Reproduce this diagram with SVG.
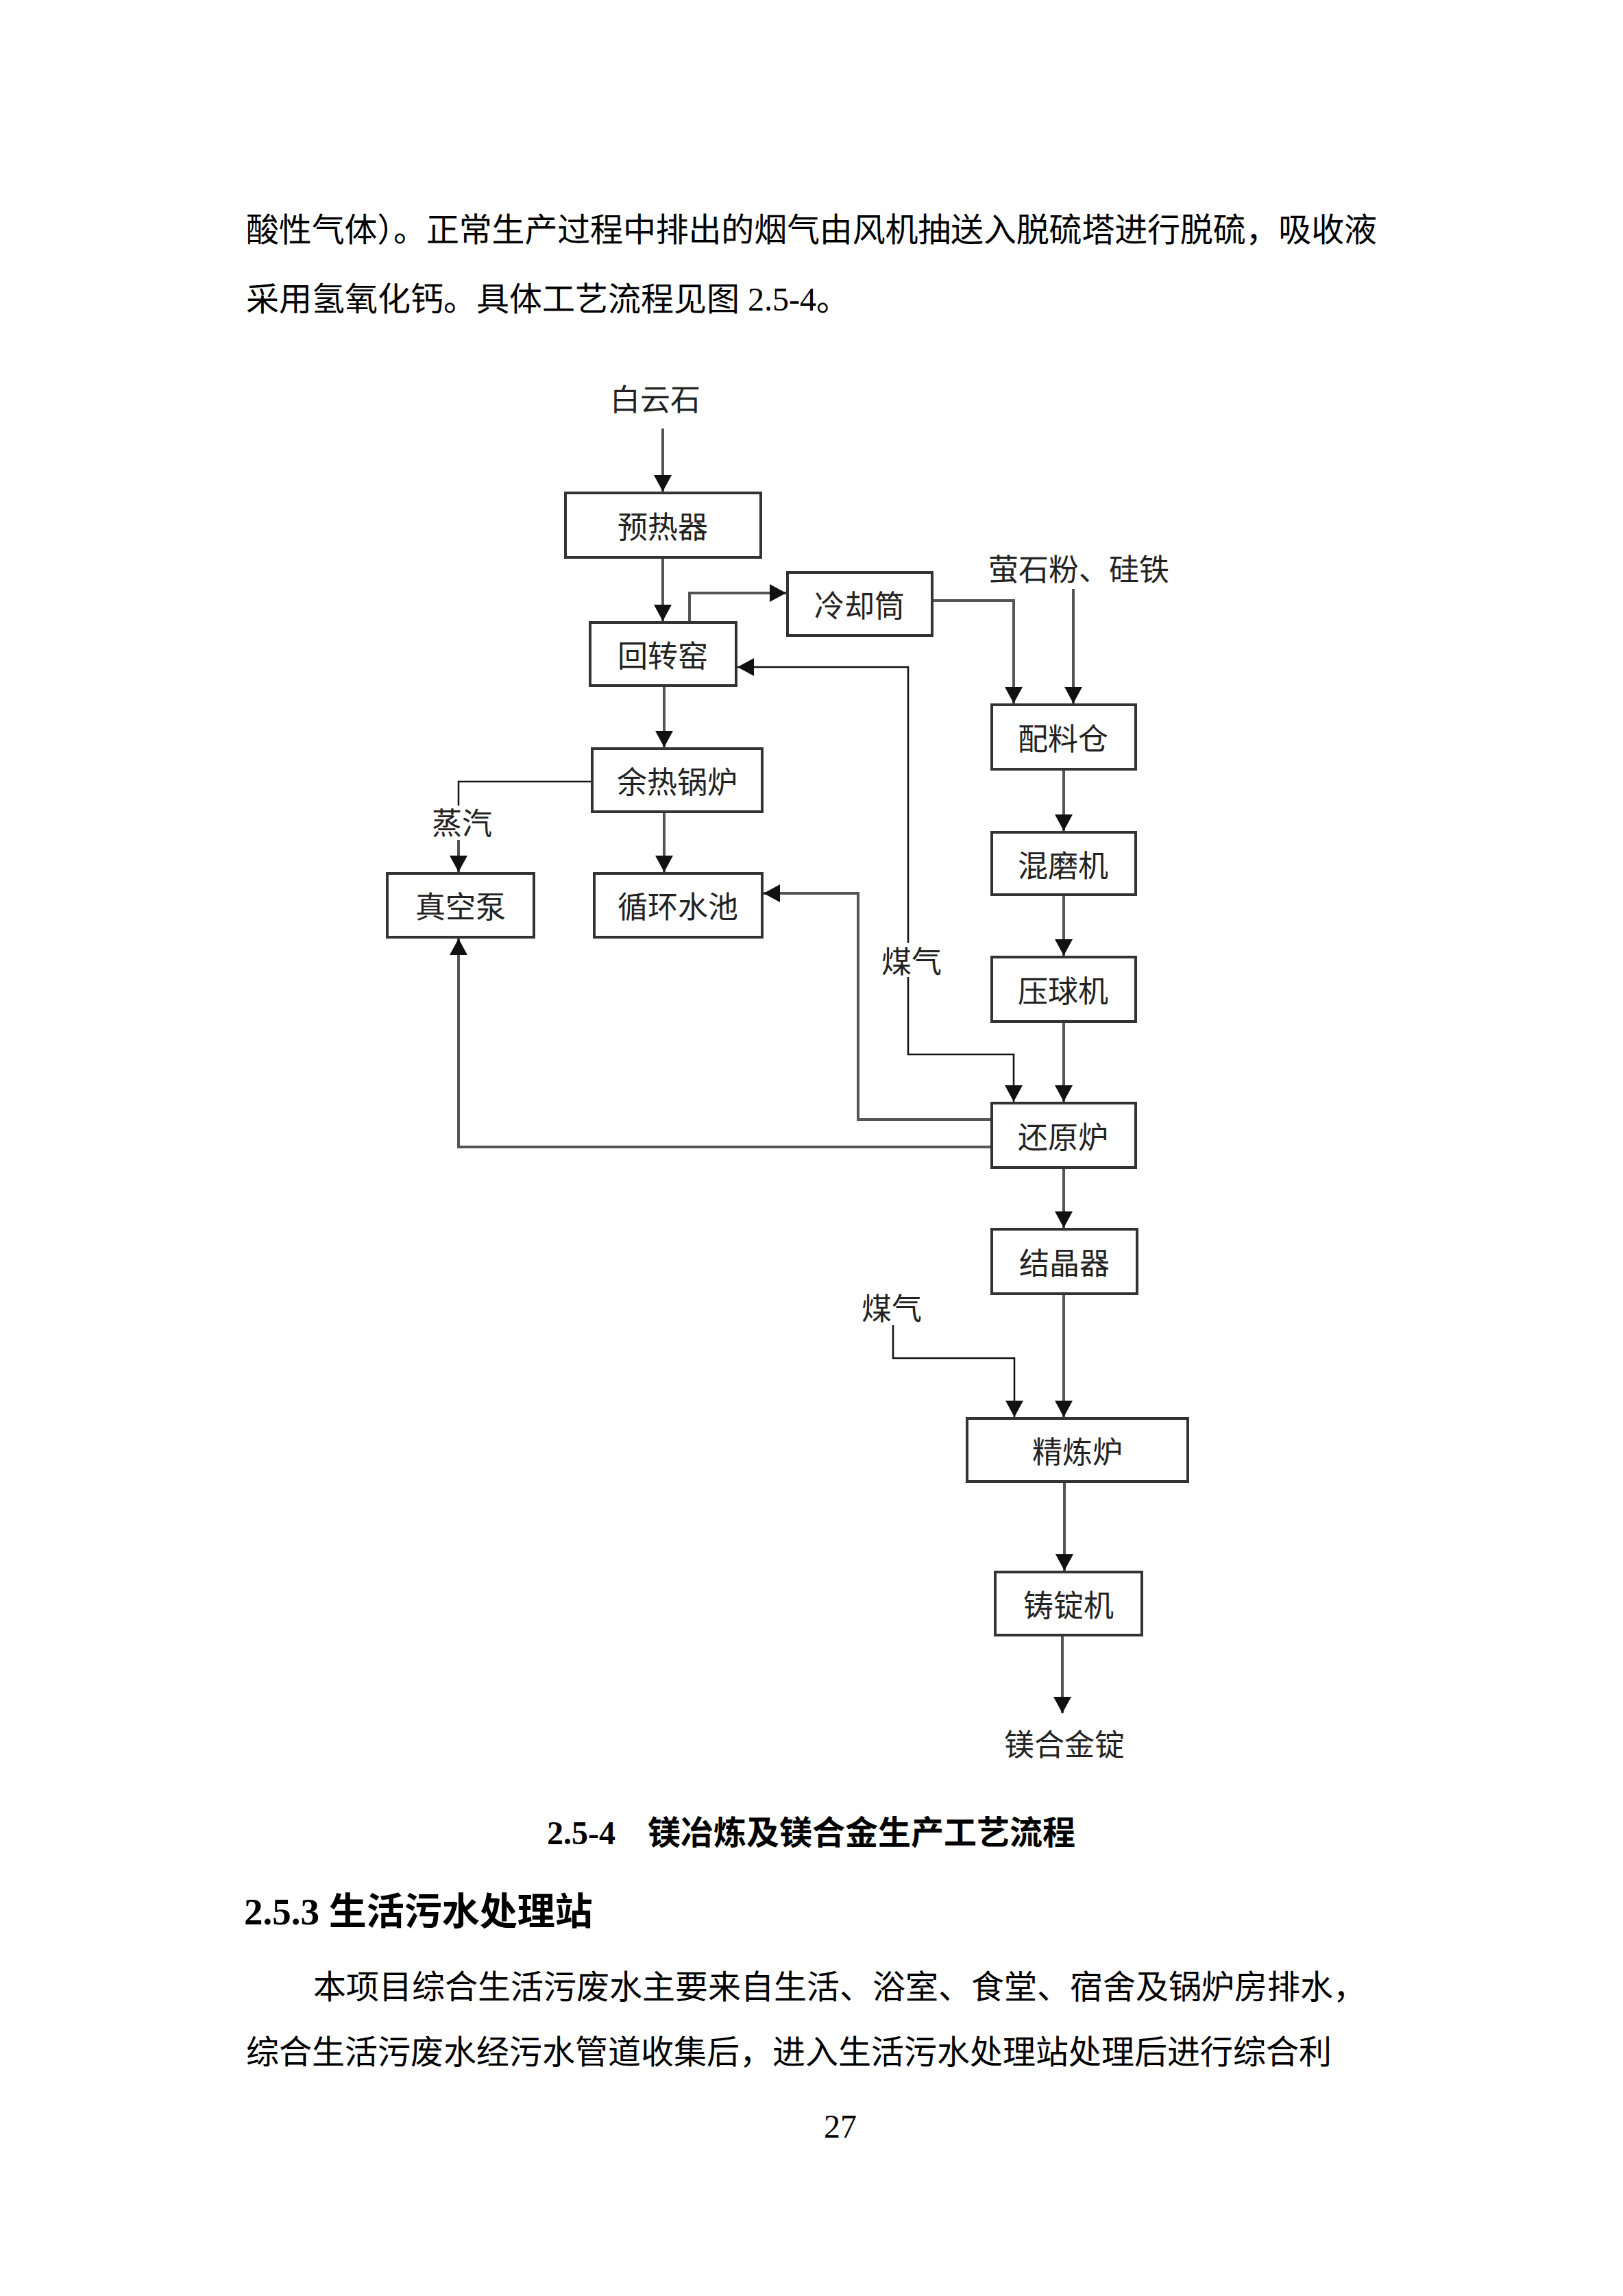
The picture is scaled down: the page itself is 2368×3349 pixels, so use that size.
<svg xmlns="http://www.w3.org/2000/svg" width="2368" height="3349" viewBox="0 0 2368 3349">
<style>
.body{font-family:"Liberation Serif","Noto Sans CJK SC",serif;font-size:48px;fill:#000}
.cap{font-family:"Liberation Serif","Noto Sans CJK SC",serif;font-weight:bold;fill:#000}
.box{fill:#fff;stroke:#333;stroke-width:4}
.lbl{font-family:"Noto Sans CJK SC",sans-serif;font-size:44px;fill:#222;text-anchor:middle;dominant-baseline:central}
.c{fill:none;stroke:#555;stroke-width:4}
.g{fill:none;stroke:#111;stroke-width:2.5}
</style>
<defs>
<marker id="ah" markerUnits="userSpaceOnUse" markerWidth="24" markerHeight="26" viewBox="0 0 24 26" refX="24" refY="13" orient="auto">
<path d="M0,0 L24,13 L0,26 Z" fill="#111"/>
</marker>
</defs>
<rect width="2368" height="3349" fill="#fff"/>
<text class="body" x="359" y="352" textLength="1650" lengthAdjust="spacing">酸性气体）。正常生产过程中排出的烟气由风机抽送入脱硫塔进行脱硫，吸收液</text>
<text class="body" x="359" y="453">采用氢氧化钙。具体工艺流程见图 2.5-4。</text>

<g id="connectors">
<path class="c" d="M967,625 V717" marker-end="url(#ah)"/>
<path class="c" d="M967,813 V906" marker-end="url(#ah)"/>
<path class="c" d="M1006,908 V865 H1147" marker-end="url(#ah)"/>
<path class="c" d="M1360,876 H1479 V1026" marker-end="url(#ah)"/>
<path class="c" d="M1566,859 V1026" marker-end="url(#ah)"/>
<path class="g" d="M1325,1375 V973 H1076" marker-end="url(#ah)"/>
<path class="c" d="M969,1000 V1090" marker-end="url(#ah)"/>
<path class="g" d="M864,1140 H669 V1175"/>
<path class="c" d="M669,1225 V1272" marker-end="url(#ah)"/>
<path class="c" d="M969,1184 V1272" marker-end="url(#ah)"/>
<path class="c" d="M1447,1633 H1252 V1303 H1114" marker-end="url(#ah)"/>
<path class="c" d="M1447,1673 H669 V1369" marker-end="url(#ah)"/>
<path class="g" d="M1325,1425 V1538 H1479 V1607" marker-end="url(#ah)"/>
<path class="c" d="M1552,1122 V1212" marker-end="url(#ah)"/>
<path class="c" d="M1552,1305 V1394" marker-end="url(#ah)"/>
<path class="c" d="M1552,1490 V1607" marker-end="url(#ah)"/>
<path class="c" d="M1552,1703 V1791" marker-end="url(#ah)"/>
<path class="c" d="M1552,1887 V2067" marker-end="url(#ah)"/>
<path class="g" d="M1303,1933 V1981 H1480 V2067" marker-end="url(#ah)"/>
<path class="c" d="M1553,2161 V2291" marker-end="url(#ah)"/>
<path class="c" d="M1550,2385 V2499" marker-end="url(#ah)"/>
</g>

<g id="n-baiyunshi"><text class="lbl" x="956" y="580">白云石</text></g>
<g id="n-yureqi"><rect class="box" x="825" y="719" width="285" height="94"/><text class="lbl" x="967" y="766">预热器</text></g>
<g id="n-huizhuanyao"><rect class="box" x="861" y="908" width="213" height="92"/><text class="lbl" x="967" y="954">回转窑</text></g>
<g id="n-lengquetong"><rect class="box" x="1149" y="835" width="211" height="92"/><text class="lbl" x="1254" y="881">冷却筒</text></g>
<g id="n-yingshifen"><text class="lbl" x="1574" y="828">萤石粉、硅铁</text></g>
<g id="n-peiliaocang"><rect class="box" x="1447" y="1028" width="210" height="94"/><text class="lbl" x="1551" y="1075">配料仓</text></g>
<g id="n-yureguolu"><rect class="box" x="864" y="1092" width="248" height="92"/><text class="lbl" x="988" y="1138">余热锅炉</text></g>
<g id="n-zhengqi"><text class="lbl" x="674" y="1198">蒸汽</text></g>
<g id="n-zhenkongbeng"><rect class="box" x="565" y="1274" width="214" height="93"/><text class="lbl" x="672" y="1320">真空泵</text></g>
<g id="n-xunhuanshuichi"><rect class="box" x="867" y="1274" width="245" height="93"/><text class="lbl" x="989" y="1320">循环水池</text></g>
<g id="n-humoji"><rect class="box" x="1447" y="1214" width="210" height="91"/><text class="lbl" x="1551" y="1260">混磨机</text></g>
<g id="n-meiqi1"><text class="lbl" x="1330" y="1400">煤气</text></g>
<g id="n-yaqiuji"><rect class="box" x="1447" y="1396" width="210" height="94"/><text class="lbl" x="1551" y="1443">压球机</text></g>
<g id="n-huanyuanlu"><rect class="box" x="1447" y="1609" width="210" height="94"/><text class="lbl" x="1551" y="1656">还原炉</text></g>
<g id="n-jiejingqi"><rect class="box" x="1447" y="1793" width="212" height="94"/><text class="lbl" x="1553" y="1840">结晶器</text></g>
<g id="n-meiqi2"><text class="lbl" x="1301" y="1906">煤气</text></g>
<g id="n-jinglianlu"><rect class="box" x="1411" y="2069" width="322" height="92"/><text class="lbl" x="1572" y="2115">精炼炉</text></g>
<g id="n-zhudingji"><rect class="box" x="1452" y="2293" width="214" height="92"/><text class="lbl" x="1559" y="2339">铸锭机</text></g>
<g id="n-meihejinding"><text class="lbl" x="1553" y="2542">镁合金锭</text></g>

<text class="cap" x="798" y="2690" font-size="48">2.5-4</text>
<text class="cap" x="945" y="2690" font-size="48">镁冶炼及镁合金生产工艺流程</text>
<text class="cap" x="356" y="2807" font-size="55">2.5.3 生活污水处理站</text>
<text class="body" x="457" y="2915" textLength="1536" lengthAdjust="spacing">本项目综合生活污废水主要来自生活、浴室、食堂、宿舍及锅炉房排水，</text>
<text class="body" x="359" y="3010" textLength="1584" lengthAdjust="spacing">综合生活污废水经污水管道收集后，进入生活污水处理站处理后进行综合利</text>
<text class="body" x="1202" y="3118" font-size="36">27</text>
</svg>
